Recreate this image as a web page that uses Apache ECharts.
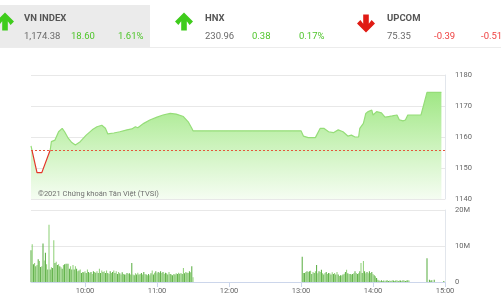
<!DOCTYPE html>
<html><head><meta charset="utf-8">
<script src="https://cdn.jsdelivr.net/npm/echarts@6/dist/echarts.min.js"></script>
<style>html,body{margin:0;padding:0;background:#fff}#c{width:501px;height:300px}</style>
</head><body><div id="c"></div>
<script>
// ---- data ----
const indexNames = ['VN INDEX', 'HNX', 'UPCOM'];
const indexValues = ['1,174.38', '230.96', '75.35'];
const indexChanges = ['18.60', '0.38', '-0.39'];
const indexPercents = ['1.61%', '0.17%', '-0.51%'];
const indexUp = [true, true, false];

const refPrice = 1155.78;
const priceTimes = ['9:15','9:20','9:24','9:31','9:32','9:35','9:38','9:41','9:43','9:46','9:49','9:52','9:56',
  '10:01','10:06','10:10','10:14','10:17','10:19','10:24','10:29','10:35','10:39','10:42','10:44','10:49','10:54',
  '11:00','11:05','11:11','11:16','11:22','11:26','11:29','11:30','13:00','13:02','13:06','13:12','13:16','13:19',
  '13:23','13:27','13:31','13:35','13:39','13:42','13:45','13:48','13:49','13:52','13:54','13:56','13:59','14:00',
  '14:03','14:07','14:10','14:13','14:16','14:20','14:22','14:25','14:27','14:29','14:40','14:45','14:57'];
const priceValues = [1157.1,1148.5,1148.5,1155.8,1158.5,1159.0,1161.7,1162.8,1161.7,1159.6,1158.2,1157.4,1158.5,
  1160.6,1162.3,1163.3,1163.8,1162.8,1161.0,1161.3,1161.7,1162.3,1162.6,1163.3,1163.0,1164.4,1165.5,
  1166.4,1167.1,1167.6,1167.4,1166.6,1164.9,1162.8,1162.0,1162.0,1160.3,1159.8,1159.8,1162.8,1162.8,
  1161.7,1161.4,1162.3,1161.7,1160.3,1160.6,1160.0,1160.0,1162.8,1164.4,1167.6,1168.2,1168.7,1167.1,
  1168.2,1167.8,1166.4,1166.6,1166.8,1167.1,1165.5,1165.2,1165.5,1167.1,1167.1,1174.38,1174.38];
const priceTicks = [1140, 1150, 1160, 1170, 1180];

// volume in millions, one bar per minute
const volMorningStart = '9:15';
const volMorning = [8.8,10.5,4.9,5.3,4.4,4.7,6.3,5.8,4.2,4.4,10.7,6.0,8.1,4.9,3.5,15.9,3.5,4.1,3.9,11.6,
  5.3,5.6,4.7,4.9,4.4,4.1,3.7,4.7,4.9,5.1,5.1,5.1,3.7,4.4,3.5,4.7,3.5,4.4,3.7,3.0,
  3.2,3.5,2.5,2.8,2.7,3.0,2.5,3.5,2.8,2.5,2.8,2.2,3.0,2.8,2.6,3.0,2.5,3.7,2.5,3.2,
  2.8,3.0,2.5,3.2,2.5,2.2,3.0,2.5,2.8,3.2,2.5,3.0,2.2,2.8,2.4,2.1,2.7,2.2,2.1,2.1,
  2.5,2.3,2.4,2.1,5.3,2.1,1.9,2.4,2.1,2.6,2.1,2.2,2.5,2.1,2.8,2.2,2.1,1.9,2.2,1.9,
  2.4,3.2,2.1,2.6,3.0,2.4,2.8,2.6,3.0,2.5,2.8,2.2,2.6,2.4,2.1,2.8,2.2,2.1,1.9,2.2,
  2.1,2.4,2.2,2.6,2.3,2.5,2.2,3.9,2.4,2.8,2.6,2.5,3.0,2.7,4.4,1.3];
const volAfternoonStart = '13:01';
const volAfternoon = [7.0,2.5,2.5,2.8,3.0,2.8,3.0,3.1,2.2,2.8,2.5,3.0,4.7,2.4,3.0,2.8,3.4,2.4,2.1,2.5,
  2.8,2.2,2.5,2.4,2.1,2.7,2.2,2.5,2.1,2.8,2.1,1.7,1.9,1.8,2.1,2.3,2.8,3.4,2.4,2.2,
  2.2,2.1,2.2,2.4,3.0,2.5,2.2,2.4,3.0,5.3,2.5,5.8,3.0,2.4,2.8,2.4,3.0,2.5,2.8,2.2,
  1.9,1.6,1.1,0.6,0.4,0.3,0.5,0.3,0.4,0.2,0.4,0.5,0.3,0.4,0.3,0.5,0.4,0.3,0.4,0.5,
  0.3,0.4,0.4,0.3,0.5,0.4,0.3,0.4,0.5,0.4,null,null,null,null,null,null,null,null,null,null,
  null,null,null,null,6.6,null,0.6,0.4,0.5,null,0.6,null,null,null,null,null,null,null,0.3];
const timeTicks = ['10:00', '11:00', '12:00', '13:00', '14:00', '15:00'];
const volTicks = [0, 10, 20]; // millions
const axisStart = '9:15', axisEnd = '15:00';
const watermark = '©2021 Chứng khoán Tân Việt (TVSI)';

// ---- build ----
const toMin = s => { const p = s.split(':').map(Number); return p[0] * 60 + p[1]; };
const pad = n => (n < 10 ? '0' : '') + n;
const fmtTime = m => pad(Math.floor(m / 60)) + ':' + pad(m % 60);
const xMin = toMin(axisStart), xMax = toMin(axisEnd);
const priceData = priceTimes.map((t, i) => [toMin(t), priceValues[i]]);
const volData = [];
volMorning.forEach((v, i) => volData.push([toMin(volMorningStart) + i, v == null ? null : v * 1e6]));
volAfternoon.forEach((v, i) => volData.push([toMin(volAfternoonStart) + i, v == null ? null : v * 1e6]));
const tickMins = timeTicks.map(toMin);
const pMin = priceTicks[0], pMax = priceTicks[priceTicks.length - 1];

const FONT = 'Roboto';
const GREEN = '#4fc52b', RED = '#ef4040';
const graphics = [];
graphics.push({type: 'rect', shape: {x: 0, y: 5, width: 150, height: 42}, style: {fill: '#ebebeb'}});
graphics.push({type: 'line', shape: {x1: 0, y1: 47.5, x2: 501, y2: 47.5}, style: {stroke: '#ececec', lineWidth: 1}});
const blockX = [0, 179, 361];
function arrow(cx, top, up, color) {
  const h = 18, hw = 9, hh = 9, sw = 2.8;
  let pts = [[cx, 0], [cx + hw, hh], [cx + hw - 3.4, hh + 3.4], [cx + sw, hh - 0.3], [cx + sw, h], [cx - sw, h], [cx - sw, hh - 0.3], [cx - hw + 3.4, hh + 3.4], [cx - hw, hh]];
  pts = pts.map(p => [p[0], up ? top + p[1] : top + h - p[1]]);
  return {type: 'polygon', shape: {points: pts}, style: {fill: color}};
}
indexNames.forEach((n, i) => {
  const bx = blockX[i];
  const cx = i === 0 ? 5 : bx + 5;
  graphics.push(arrow(cx, indexUp[i] ? 12.5 : 14.5, indexUp[i], indexUp[i] ? '#3fcc1c' : '#e01b14'));
  const tx = i === 0 ? 24 : bx + 26;
  const col = indexUp[i] ? GREEN : RED;
  graphics.push({type: 'text', x: tx, y: 18.5, style: {text: n, fontFamily: FONT, fontSize: 9.5, fontWeight: 'bold', fill: '#555', verticalAlign: 'middle'}});
  graphics.push({type: 'text', x: tx, y: 37, style: {text: indexValues[i], fontFamily: FONT, fontSize: 9.5, fill: '#6a6a6a', verticalAlign: 'middle'}});
  graphics.push({type: 'text', x: tx + 47, y: 37, style: {text: indexChanges[i], fontFamily: FONT, fontSize: 9.5, fill: col, verticalAlign: 'middle'}});
  graphics.push({type: 'text', x: tx + 94, y: 37, style: {text: indexPercents[i], fontFamily: FONT, fontSize: 9.5, fill: col, verticalAlign: 'middle'}});
});
graphics.push({type: 'text', x: 38, y: 194.5, z: 100, style: {text: watermark, fontFamily: FONT, fontSize: 7.5, fill: '#707070', verticalAlign: 'middle'}});

const chart = echarts.init(document.getElementById('c'), null, {renderer: 'canvas'});
chart.setOption({
  animation: false,
  backgroundColor: '#fff',
  textStyle: {fontFamily: FONT},
  graphic: graphics,
  grid: [
    {left: 31, right: 56, top: 75, height: 124},
    {left: 31, right: 56, top: 210, height: 72}
  ],
  xAxis: [
    {type: 'value', gridIndex: 0, min: xMin, max: xMax, show: false},
    {type: 'value', gridIndex: 1, min: xMin, max: xMax,
     axisLine: {show: true, lineStyle: {color: '#ccd6eb', width: 1}},
     axisTick: {show: true, customValues: tickMins, length: 5, lineStyle: {color: '#ccd6eb'}},
     axisLabel: {customValues: tickMins, formatter: v => fmtTime(v), fontSize: 7.5, color: '#666', margin: 5},
     splitLine: {show: false}}
  ],
  yAxis: [
    {type: 'value', gridIndex: 0, position: 'right', min: pMin, max: pMax, interval: 10,
     axisLine: {show: true, lineStyle: {color: '#e2e6ec'}}, axisTick: {show: false},
     axisLabel: {fontSize: 7.5, color: '#666', margin: 10, formatter: v => String(v)},
     splitLine: {lineStyle: {color: '#e8e8e8'}}},
    {type: 'value', gridIndex: 1, position: 'right', min: volTicks[0] * 1e6, max: volTicks[2] * 1e6, interval: 10e6,
     axisLine: {show: true, lineStyle: {color: '#e2e6ec'}}, axisTick: {show: false},
     axisLabel: {fontSize: 7.5, color: '#666', margin: 10, formatter: v => v === 0 ? '0' : (v / 1e6) + 'M'},
     splitLine: {lineStyle: {color: '#e8e8e8'}}}
  ],
  visualMap: {show: false, type: 'piecewise', seriesIndex: 0, dimension: 1,
    pieces: [{gte: pMin, lt: refPrice, color: '#e3362a'}, {gte: refPrice, lte: pMax, color: '#95dd78'}],
    outOfRange: {color: '#95dd78'}},
  series: [
    {type: 'line', xAxisIndex: 0, yAxisIndex: 0, data: priceData, showSymbol: false, symbol: 'none',
     lineStyle: {width: 1.2},
     areaStyle: {opacity: 1, color: new echarts.graphic.LinearGradient(0, 0, 0, 1, [
       {offset: 0, color: '#a0e785'}, {offset: 0.5, color: '#ccf3bc'}, {offset: 1, color: '#f5fdf2'}])},
     markLine: {silent: true, symbol: 'none', label: {show: false},
       lineStyle: {color: '#e4573c', type: [2, 2], width: 1},
       data: [{yAxis: refPrice}]}},
    {type: 'bar', xAxisIndex: 1, yAxisIndex: 1, data: volData, barWidth: 1,
     itemStyle: {color: p => (p.dataIndex % 2 ? '#8ccf74' : '#55ab3c')}}
  ]
});
</script></body></html>
